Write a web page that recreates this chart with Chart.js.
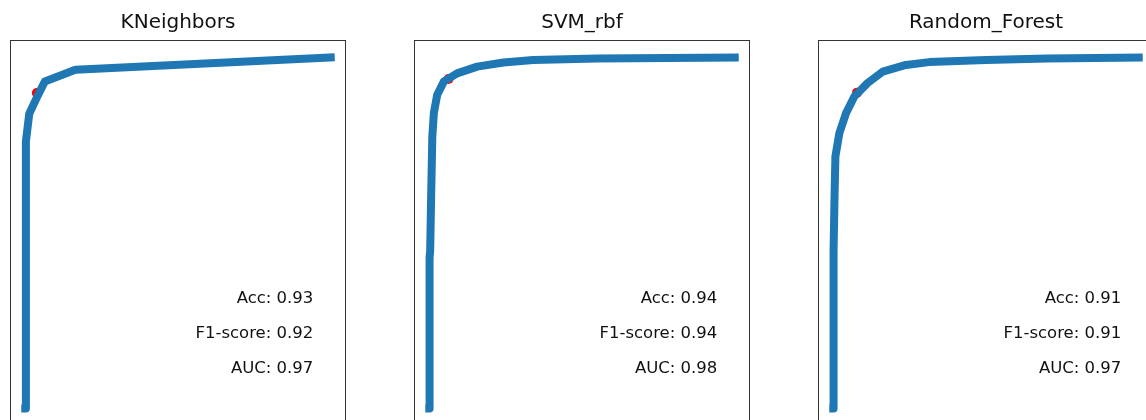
<!DOCTYPE html>
<html>
<head>
<meta charset="utf-8">
<script src="https://cdn.jsdelivr.net/npm/chart.js@4.4.1/dist/chart.umd.min.js"></script>
<style>
  html, body { margin: 0; padding: 0; background: #fff; overflow: hidden; width: 1146px; height: 420px; }
  canvas { position: absolute; top: 0; }
</style>
</head>
<body>
<canvas id="roc0" width="338" height="440" style="left:9px"></canvas>
<canvas id="roc1" width="338" height="440" style="left:413px"></canvas>
<canvas id="roc2" width="338" height="440" style="left:817px"></canvas>
<script>
// model names and their scores
const modelNames = ['KNeighbors', 'SVM_rbf', 'Random_Forest'];
const accScores = [0.93, 0.94, 0.91];
const f1Scores = [0.92, 0.94, 0.91];
const aucScores = [0.97, 0.98, 0.97];

// ROC curves
const fprKnn = [0, 0.002, 0.013, 0.04, 0.064, 0.164, 1];
const tprKnn = [0, 0.76, 0.84, 0.89, 0.932, 0.965, 1];
const fprSvm = [0, 0.001, 0.003, 0.006, 0.01, 0.015, 0.026, 0.048, 0.091, 0.157, 0.243, 0.34, 0.55, 1];
const tprSvm = [0, 0.43, 0.45, 0.6, 0.775, 0.842, 0.894, 0.932, 0.955, 0.974, 0.986, 0.993, 0.997, 1];
const fprRf = [0, 0.001, 0.004, 0.007, 0.02, 0.042, 0.069, 0.112, 0.162, 0.238, 0.314, 0.5, 0.7, 1];
const tprRf = [0, 0.45, 0.6, 0.718, 0.785, 0.842, 0.889, 0.927, 0.96, 0.979, 0.987, 0.993, 0.997, 1];

// chosen threshold point (red dot) for each model
const cutoffFpr = [0.038, 0.063, 0.078];
const cutoffTpr = [0.899, 0.939, 0.9];

const curves = [[fprKnn, tprKnn], [fprSvm, tprSvm], [fprRf, tprRf]];

Chart.defaults.font.family = "'DejaVu Sans', sans-serif";
Chart.defaults.color = '#000';

// box, title and score texts like matplotlib
const panelDecor = {
    id: 'panelDecor',
    afterDatasetsDraw(chart, args, opts) {
        const {ctx, chartArea: a, scales} = chart;
        ctx.save();
        ctx.strokeStyle = '#333';
        ctx.lineWidth = 1;
        ctx.strokeRect(a.left + 0.5, a.top + 0.5, a.right - a.left - 1, a.bottom - a.top - 1);

        ctx.fillStyle = '#111';
        ctx.textBaseline = 'alphabetic';
        ctx.textAlign = 'center';
        ctx.font = "20px 'DejaVu Sans'";
        ctx.fillText(opts.title, (a.left + a.right) / 2, a.top - 12);

        ctx.textAlign = 'right';
        ctx.font = "16.5px 'DejaVu Sans'";
        const x = scales.x.getPixelForValue(0.943);
        opts.lines.forEach((t, i) => {
            ctx.fillText(t, x, scales.y.getPixelForValue(0.3 - i * 0.1));
        });
        ctx.restore();
    }
};

modelNames.forEach((name, i) => {
    const [fpr, tpr] = curves[i];
    new Chart(document.getElementById('roc' + i), {
        type: 'line',
        data: {
            datasets: [
                {
                    data: fpr.map((v, k) => ({x: v, y: tpr[k]})),
                    borderColor: '#1f77b4',
                    borderWidth: 8,
                    borderCapStyle: 'square',
                    borderJoinStyle: 'round',
                    pointRadius: 0,
                    tension: 0,
                    fill: false
                },
                {
                    data: [{x: cutoffFpr[i], y: cutoffTpr[i]}],
                    showLine: false,
                    pointRadius: 5,
                    pointBorderWidth: 0,
                    pointBackgroundColor: '#ff0000'
                }
            ]
        },
        options: {
            responsive: false,
            animation: false,
            layout: {autoPadding: false, padding: {left: 1, right: 1, top: 40, bottom: 14}},
            plugins: {
                legend: {display: false},
                tooltip: {enabled: false},
                panelDecor: {
                    title: name,
                    lines: [
                        'Acc: ' + accScores[i].toFixed(2),
                        'F1-score: ' + f1Scores[i].toFixed(2),
                        'AUC: ' + aucScores[i].toFixed(2)
                    ]
                }
            },
            scales: {
                x: {type: 'linear', min: -0.05, max: 1.05, display: false},
                y: {type: 'linear', min: -0.05, max: 1.05, display: false}
            }
        },
        plugins: [panelDecor]
    });
});
</script>
</body>
</html>
